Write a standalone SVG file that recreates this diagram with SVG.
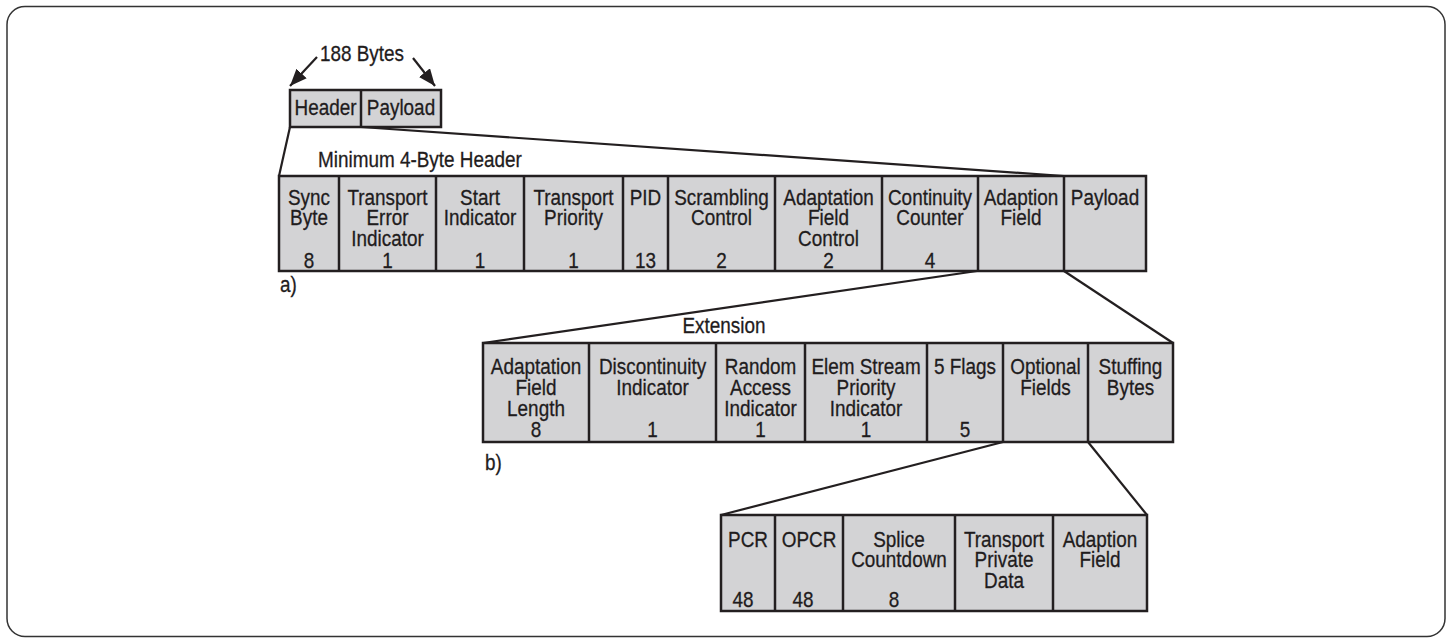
<svg xmlns="http://www.w3.org/2000/svg" width="1451" height="641" viewBox="0 0 1451 641">
<style>
.t{font-family:'Liberation Sans',Arial,sans-serif;font-size:22px;fill:#1f1c1d;stroke:#1f1c1d;stroke-width:0.3;text-anchor:middle}
.l{text-anchor:start}
.cell{fill:#d3d3d5;stroke:#231f20;stroke-width:2.5}
.div{stroke:#231f20;stroke-width:2.5}
.con{stroke:#231f20;stroke-width:2.2;fill:none}
</style>
<defs>
<marker id="ah" viewBox="0 0 17 14" refX="17" refY="7" markerWidth="17" markerHeight="14" markerUnits="userSpaceOnUse" orient="auto">
<path d="M0,0 L17,7 L0,14 z" fill="#231f20"/>
</marker>
</defs>
<rect x="7" y="6.5" width="1438" height="630" rx="18" ry="18" fill="#fff" stroke="#333" stroke-width="1.5"/>

<g id="packet">
<rect class="cell" x="290" y="90" width="151" height="37"/>
<line class="div" x1="361" y1="90" x2="361" y2="127"/>
<text class="t" transform="translate(325.5,115) scale(0.86,1)">Header</text>
<text class="t" transform="translate(401,115) scale(0.86,1)">Payload</text>
<text class="t" transform="translate(362,61) scale(0.86,1)">188 Bytes</text>
</g>

<g id="connectors">
<line class="con" x1="317" y1="57" x2="290" y2="86" marker-end="url(#ah)"/>
<line class="con" x1="413" y1="58" x2="435" y2="86" marker-end="url(#ah)"/>
<line class="con" x1="290" y1="127" x2="279" y2="176"/>
<line class="con" x1="361" y1="127" x2="1064" y2="176"/>
<line class="con" x1="977" y1="271" x2="483" y2="343"/>
<line class="con" x1="1064" y1="271" x2="1173" y2="343"/>
<line class="con" x1="1003" y1="442" x2="721" y2="515"/>
<line class="con" x1="1088" y1="442" x2="1147" y2="515"/>
</g>

<g id="header-row">
<text class="t l" transform="translate(318,167) scale(0.86,1)">Minimum 4-Byte Header</text>
<rect class="cell" x="279" y="176" width="867" height="95"/>
<g class="div">
<line x1="339" y1="176" x2="339" y2="271"/>
<line x1="436" y1="176" x2="436" y2="271"/>
<line x1="524" y1="176" x2="524" y2="271"/>
<line x1="623" y1="176" x2="623" y2="271"/>
<line x1="668" y1="176" x2="668" y2="271"/>
<line x1="775" y1="176" x2="775" y2="271"/>
<line x1="882" y1="176" x2="882" y2="271"/>
<line x1="978" y1="176" x2="978" y2="271"/>
<line x1="1064" y1="176" x2="1064" y2="271"/>
</g>
<g id="sync"><text class="t" transform="translate(309,205) scale(0.86,1)"><tspan x="0">Sync</tspan><tspan x="0" dy="20.5">Byte</tspan></text><text class="t" transform="translate(309,268) scale(0.86,1)">8</text></g>
<g id="tei"><text class="t" transform="translate(387.5,205) scale(0.86,1)"><tspan x="0">Transport</tspan><tspan x="0" dy="20.5">Error</tspan><tspan x="0" dy="20.5">Indicator</tspan></text><text class="t" transform="translate(387.5,268) scale(0.86,1)">1</text></g>
<g id="start"><text class="t" transform="translate(480,205) scale(0.86,1)"><tspan x="0">Start</tspan><tspan x="0" dy="20.5">Indicator</tspan></text><text class="t" transform="translate(480,268) scale(0.86,1)">1</text></g>
<g id="tprio"><text class="t" transform="translate(573.5,205) scale(0.86,1)"><tspan x="0">Transport</tspan><tspan x="0" dy="20.5">Priority</tspan></text><text class="t" transform="translate(573.5,268) scale(0.86,1)">1</text></g>
<g id="pid"><text class="t" transform="translate(645.5,205) scale(0.86,1)">PID</text><text class="t" transform="translate(645.5,268) scale(0.86,1)">13</text></g>
<g id="scr"><text class="t" transform="translate(721.5,205) scale(0.86,1)"><tspan x="0">Scrambling</tspan><tspan x="0" dy="20.5">Control</tspan></text><text class="t" transform="translate(721.5,268) scale(0.86,1)">2</text></g>
<g id="afc"><text class="t" transform="translate(828.5,205) scale(0.86,1)"><tspan x="0">Adaptation</tspan><tspan x="0" dy="20.5">Field</tspan><tspan x="0" dy="20.5">Control</tspan></text><text class="t" transform="translate(828.5,268) scale(0.86,1)">2</text></g>
<g id="cc"><text class="t" transform="translate(930,205) scale(0.86,1)"><tspan x="0">Continuity</tspan><tspan x="0" dy="20.5">Counter</tspan></text><text class="t" transform="translate(930,268) scale(0.86,1)">4</text></g>
<g id="af"><text class="t" transform="translate(1021,205) scale(0.86,1)"><tspan x="0">Adaption</tspan><tspan x="0" dy="20.5">Field</tspan></text></g>
<g id="pl"><text class="t" transform="translate(1105,205) scale(0.86,1)">Payload</text></g>
<text class="t l" transform="translate(280,292) scale(0.86,1)">a)</text>
</g>

<g id="extension-row">
<text class="t" transform="translate(724,333) scale(0.86,1)">Extension</text>
<rect class="cell" x="483" y="343" width="690" height="99"/>
<g class="div">
<line x1="589" y1="343" x2="589" y2="442"/>
<line x1="716" y1="343" x2="716" y2="442"/>
<line x1="805" y1="343" x2="805" y2="442"/>
<line x1="927" y1="343" x2="927" y2="442"/>
<line x1="1003" y1="343" x2="1003" y2="442"/>
<line x1="1088" y1="343" x2="1088" y2="442"/>
</g>
<g id="afl"><text class="t" transform="translate(536,374) scale(0.86,1)"><tspan x="0">Adaptation</tspan><tspan x="0" dy="21">Field</tspan><tspan x="0" dy="21">Length</tspan><tspan x="0" dy="21">8</tspan></text></g>
<g id="disc"><text class="t" transform="translate(652.5,374) scale(0.86,1)"><tspan x="0">Discontinuity</tspan><tspan x="0" dy="21">Indicator</tspan></text><text class="t" transform="translate(652.5,437) scale(0.86,1)">1</text></g>
<g id="rai"><text class="t" transform="translate(760.5,374) scale(0.86,1)"><tspan x="0">Random</tspan><tspan x="0" dy="21">Access</tspan><tspan x="0" dy="21">Indicator</tspan><tspan x="0" dy="21">1</tspan></text></g>
<g id="esp"><text class="t" transform="translate(866,374) scale(0.86,1)"><tspan x="0">Elem Stream</tspan><tspan x="0" dy="21">Priority</tspan><tspan x="0" dy="21">Indicator</tspan><tspan x="0" dy="21">1</tspan></text></g>
<g id="flags"><text class="t" transform="translate(965,374) scale(0.86,1)">5 Flags</text><text class="t" transform="translate(965,437) scale(0.86,1)">5</text></g>
<g id="opt"><text class="t" transform="translate(1045.5,374) scale(0.86,1)"><tspan x="0">Optional</tspan><tspan x="0" dy="21">Fields</tspan></text></g>
<g id="stuff"><text class="t" transform="translate(1130.5,374) scale(0.86,1)"><tspan x="0">Stuffing</tspan><tspan x="0" dy="21">Bytes</tspan></text></g>
<text class="t l" transform="translate(485,470) scale(0.86,1)">b)</text>
</g>

<g id="optional-row">
<rect class="cell" x="721" y="515" width="426" height="96"/>
<g class="div">
<line x1="775" y1="515" x2="775" y2="611"/>
<line x1="843" y1="515" x2="843" y2="611"/>
<line x1="955" y1="515" x2="955" y2="611"/>
<line x1="1053" y1="515" x2="1053" y2="611"/>
</g>
<g id="pcr"><text class="t" transform="translate(748,547) scale(0.86,1)">PCR</text><text class="t" transform="translate(743,607) scale(0.86,1)">48</text></g>
<g id="opcr"><text class="t" transform="translate(809,547) scale(0.86,1)">OPCR</text><text class="t" transform="translate(803,607) scale(0.86,1)">48</text></g>
<g id="splice"><text class="t" transform="translate(899,547) scale(0.86,1)"><tspan x="0">Splice</tspan><tspan x="0" dy="20.5">Countdown</tspan></text><text class="t" transform="translate(894,607) scale(0.86,1)">8</text></g>
<g id="tpd"><text class="t" transform="translate(1004,547) scale(0.86,1)"><tspan x="0">Transport</tspan><tspan x="0" dy="20.5">Private</tspan><tspan x="0" dy="20.5">Data</tspan></text></g>
<g id="af2"><text class="t" transform="translate(1100,547) scale(0.86,1)"><tspan x="0">Adaption</tspan><tspan x="0" dy="20.5">Field</tspan></text></g>
</g>
</svg>
